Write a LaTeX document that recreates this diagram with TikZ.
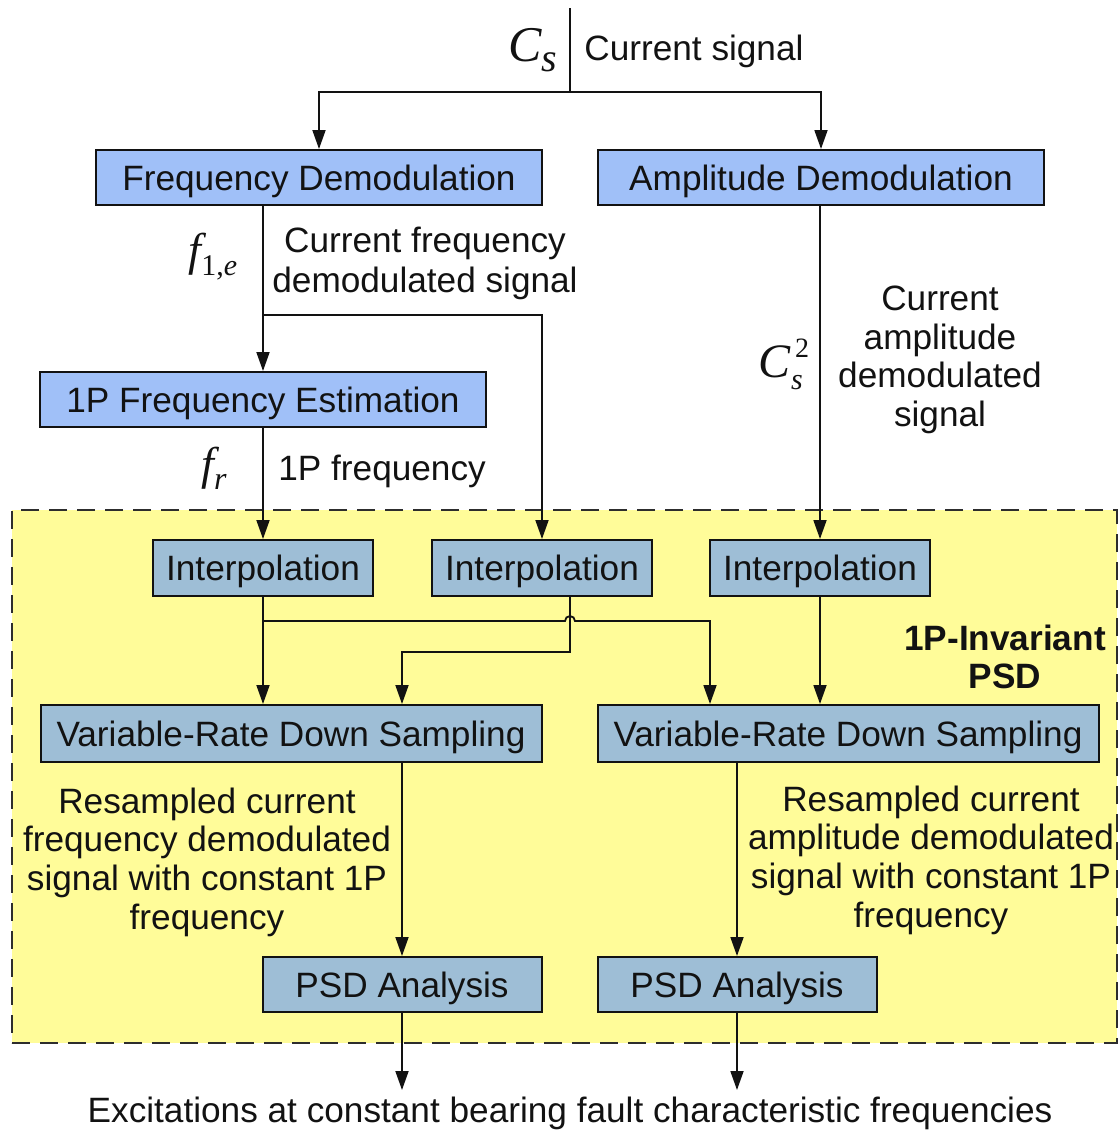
\documentclass[tikz,border=0pt]{standalone}
\usepackage{fontspec}
\setmainfont{Liberation Sans}
\newfontfamily\tms{Liberation Serif}
\usetikzlibrary{arrows.meta,calc}

\definecolor{demodblue}{RGB}{160,192,248}
\definecolor{procblue}{RGB}{158,190,214}
\definecolor{zoneyellow}{RGB}{255,252,153}
\definecolor{zoneedge}{RGB}{45,45,45}
\definecolor{ink}{RGB}{18,18,18}

\begin{document}
\begin{tikzpicture}[x=0.5pt,y=-0.5pt,
  lbl/.style={font=\fontsize{17.6}{19.3}\selectfont, text=ink, inner sep=0pt, align=center},
  box/.style={draw=ink, line width=1pt, inner sep=0pt, text=ink,
    text height=14pt, text depth=1.4pt,
    font=\fontsize{17.6}{19.3}\selectfont},
  demod/.style={box, fill=demodblue, minimum width=223pt, minimum height=27.5pt},
  interp/.style={box, fill=procblue, minimum width=110pt, minimum height=28pt},
  vrds/.style={box, fill=procblue, minimum width=250.5pt, minimum height=28.5pt},
  psd/.style={box, fill=procblue, minimum width=139.5pt, minimum height=27.5pt},
  zone/.style={draw=zoneedge, fill=zoneyellow, line width=1pt,
    dash pattern=on 9pt off 5pt, inner sep=0pt},
  sym/.style={inner sep=0pt, text=ink, font=\tms\itshape},
  flow/.style={draw=ink, line width=0.9pt},
  arr/.style={flow, -{Triangle[length=9.5pt,width=6.5pt]}}
]
\useasboundingbox (0,0) rectangle (1119,1132);

% shaded region holding the 1P-invariant PSD stage
\node[zone, minimum width=552.5pt, minimum height=266.5pt] (zone) at (564.5,776.5) {};

% processing blocks
\node[demod] (fd) at (319,177.5) {Frequency Demodulation};
\node[demod] (ad) at (821,177.5) {Amplitude Demodulation};
\node[demod] (pfe) at (263,399.5) {1P Frequency Estimation};
\node[interp] (int1) at (263,568) {Interpolation};
\node[interp] (int2) at (542,568) {Interpolation};
\node[interp] (int3) at (820,568) {Interpolation};
\node[vrds] (vr1) at (291,733.5) {Variable-Rate Down Sampling};
\node[vrds] (vr2) at (848,733.5) {Variable-Rate Down Sampling};
\node[psd] (psd1) at (402,984.5) {PSD Analysis};
\node[psd] (psd2) at (737,984.5) {PSD Analysis};

% routing points
\coordinate (src) at (570,8);
\coordinate (split) at (570,92);
\coordinate (j1) at (262,315);
\coordinate (j2) at (263,621);
\coordinate (j3) at (710,621);
\coordinate (k) at (402,652);
\coordinate (fin) at (0,1090);

% input signal and its two demodulation branches
\draw[flow] (src) -- (split);
\draw[arr] (split) -| (fd.north);
\draw[arr] (split) -| (ad.north);

% frequency branch
\draw[arr] (fd.south -| pfe.north) -- (pfe.north);
\draw[arr] (j1) -| (int2.north);
\draw[arr] (pfe.south) -- (int1.north);

% amplitude branch
\draw[arr] (ad.south -| int3.north) -- (int3.north);

% interpolated signals into the resamplers
\draw[arr] (int1.south) -- (int1.south |- vr1.north);
\draw[arr] (j2) -- (565,621) arc[start angle=180, end angle=0, radius=2.5pt]
  -- (j3) -- (j3 |- vr2.north);
\draw[arr] (int2.south -| src) |- (k) -- (k |- vr1.north);
\draw[arr] (int3.south) -- (int3.south |- vr2.north);

% spectra
\draw[arr] (vr1.south -| psd1.north) -- (psd1.north);
\draw[arr] (vr2.south -| psd2.north) -- (psd2.north);
\draw[arr] (psd1.south) -- (psd1.south |- fin);
\draw[arr] (psd2.south) -- (psd2.south |- fin);

% signal symbols
\node[sym] (cs) at (533,50) {\fontsize{25}{25}\selectfont C\raisebox{-5pt}{\fontsize{20}{20}\selectfont s}};
\node[sym] (f1e) at (213,257) {\fontsize{23}{23}\selectfont f\raisebox{-5pt}{\fontsize{15}{15}\selectfont\upshape 1,\itshape e}};
\node[sym] (cs2) at (784,364) {\fontsize{24}{24}\selectfont C\rlap{\raisebox{-6pt}{\fontsize{15}{15}\selectfont s}}\raisebox{10pt}{\fontsize{14}{14}\selectfont\upshape \kern2pt 2}};
\node[sym] (fr) at (214,468) {\fontsize{23}{23}\selectfont f\raisebox{-5pt}{\fontsize{16}{16}\selectfont r}};

% signal descriptions
\node[lbl, anchor=west] (csig) at (584,51) {Current signal};
\node[lbl] (fdsig) at (425,263) {Current frequency\\[0.7pt]demodulated signal};
\node[lbl] (adsig) at (940,360) {Current\\amplitude\\demodulated\\signal};
\node[lbl, anchor=west] (frsig) at (278,471) {1P frequency};
\node[lbl, font=\bfseries\fontsize{17.6}{19.3}\selectfont] (inv) at (1005,657) {1P-Invariant\\PSD};
\node[lbl] (rs1) at (207,862) {Resampled current\\frequency demodulated\\signal with constant 1P\\frequency};
\node[lbl] (rs2) at (931,860) {Resampled current\\amplitude demodulated\\signal with constant 1P\\frequency};
\node[lbl] (out) at (570,1113) {Excitations at constant bearing fault characteristic frequencies};
\end{tikzpicture}
\end{document}
